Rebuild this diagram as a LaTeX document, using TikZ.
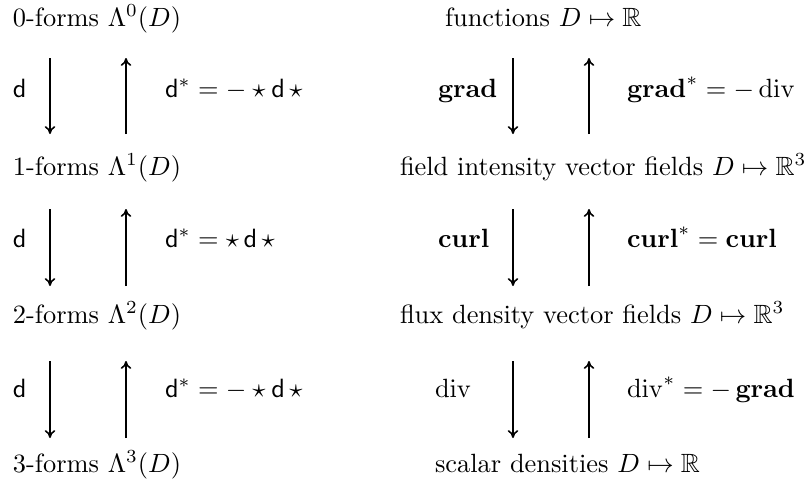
\documentclass[tikz,border=0pt]{standalone}
\usepackage{amsmath,amssymb}
\usetikzlibrary{arrows.meta}
\begin{document}
\begin{tikzpicture}[x=0.3788pt,y=-0.3788pt,
  txt/.style={anchor=base west,inner sep=0pt,outer sep=0pt},
  arr/.style={-{To[length=3pt,width=4pt]},line width=0.6pt}]
\useasboundingbox (0,0) rectangle (811,487);
% left column
\node[txt] (f0) at (13,26) {0-forms $\Lambda^0(D)$};
\node[txt] (f1) at (13,175) {1-forms $\Lambda^1(D)$};
\node[txt] (f2) at (13,323) {2-forms $\Lambda^2(D)$};
\node[txt] (f3) at (13,472) {3-forms $\Lambda^3(D)$};
% right column
\node[txt] (v0) at (445,26) {functions $D\mapsto\mathbb{R}$};
\node[txt] (v1) at (400,175) {field intensity vector fields $D\mapsto\mathbb{R}^3$};
\node[txt] (v2) at (400,323) {flux density vector fields $D\mapsto\mathbb{R}^3$};
\node[txt] (v3) at (435,472) {scalar densities $D\mapsto\mathbb{R}$};
% labels
\node[txt] (l1) at (13,97) {$\mathsf{d}$};
\node[txt] (m1) at (165,97) {$\mathsf{d}^*=-\star\mathsf{d}\,\star$};
\node[txt] (l2) at (13,247) {$\mathsf{d}$};
\node[txt] (m2) at (165,247) {$\mathsf{d}^*=\star\,\mathsf{d}\,\star$};
\node[txt] (l3) at (13,397) {$\mathsf{d}$};
\node[txt] (m3) at (165,397) {$\mathsf{d}^*=-\star\mathsf{d}\,\star$};
\node[txt] (r1) at (438,97) {$\mathbf{grad}$};
\node[txt] (s1) at (627,97) {$\mathbf{grad}^*=-\operatorname{div}$};
\node[txt] (r2) at (438,247) {$\mathbf{curl}$};
\node[txt] (s2) at (627,247) {$\mathbf{curl}^*=\mathbf{curl}$};
\node[txt] (r3) at (435,397) {$\operatorname{div}$};
\node[txt] (s3) at (627,397) {$\operatorname{div}^*=-\,\mathbf{grad}$};
% arrow endpoints
\foreach \i/\t/\b in {1/58/134, 2/209/286, 3/361/438}{
  \coordinate (la\i) at (50,\t);  \coordinate (lb\i) at (50,\b);
  \coordinate (lc\i) at (126,\t); \coordinate (ld\i) at (126,\b);
  \coordinate (ra\i) at (513,\t); \coordinate (rb\i) at (513,\b);
  \coordinate (rc\i) at (589,\t); \coordinate (rd\i) at (589,\b);
  \draw[arr] (la\i) -- (lb\i);
  \draw[arr] (ld\i) -- (lc\i);
  \draw[arr] (ra\i) -- (rb\i);
  \draw[arr] (rd\i) -- (rc\i);
}
\end{tikzpicture}
\end{document}
